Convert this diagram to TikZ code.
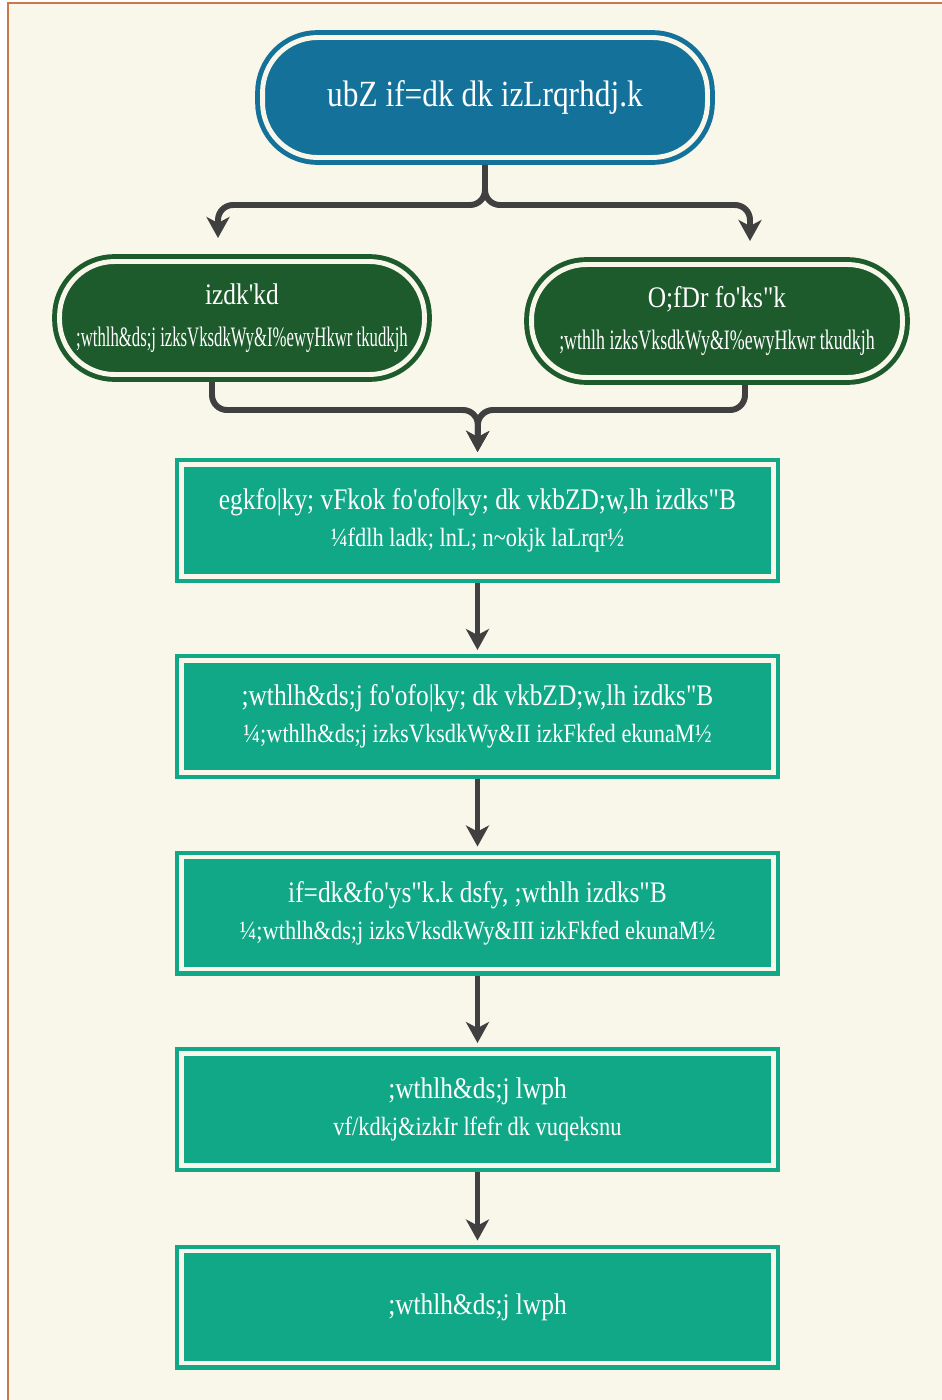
\documentclass[tikz,border=0pt]{standalone}
\usepackage{fontspec}
\setmainfont{Liberation Serif}[FakeStretch=0.85,Ligatures=TeXOff]
\usetikzlibrary{arrows.meta}

\definecolor{paper}{HTML}{F9F6EA}
\definecolor{edgebrown}{HTML}{C8784A}
\definecolor{headblue}{HTML}{14729A}
\definecolor{forest}{HTML}{1D5A2C}
\definecolor{stepteal}{HTML}{11A887}
\definecolor{arrowgray}{HTML}{404040}

\begin{document}
\begin{tikzpicture}[x=0.02cm,y=-0.02cm,
    pill/.style={draw=#1,fill=#1,double=paper,line width=2.8pt,double distance=2.8pt,
      rounded corners=1.1cm,text=white,align=center,inner sep=0pt,outer sep=0.15cm},
    stepbox/.style={draw=stepteal,fill=stepteal,double=paper,line width=2.3pt,double distance=2.8pt,
      minimum width=11.84cm,minimum height=2.24cm,text=white,align=center,inner sep=0pt,
      outer sep=0.13cm,font=\fontsize{17}{21}\selectfont},
    flow/.style={draw=arrowgray,line width=3.4pt,rounded corners=0.3cm,
      -{Stealth[length=0.42cm,width=0.46cm,inset=0.12cm]}}]
    \useasboundingbox (0,0) rectangle (942,1400);
    % Page
    \fill[white] (0,0) rectangle (942,1400);
    \draw[fill=paper,draw=edgebrown,line width=1.2pt] (8,3) rectangle (980,1440);
    % Start
    \node[pill=headblue,minimum width=8.9cm,minimum height=2.4cm,font=\fontsize{21}{25}\selectfont]
      (launch) at (485,97.5) {ubZ if=dk dk izLrqrhdj.k};
    % Two sources
    \node[pill=forest,minimum width=7.3cm,minimum height=2.26cm,font=\fontsize{17}{24}\selectfont]
      (pub) at (242,318) {izdk'kd\\{\fontsize{16}{24}\selectfont\scalebox{0.7}[1]{;wthlh\&ds;j izksVksdkWy\&I\%ewyHkwr tkudkjh}}};
    \node[pill=forest,minimum width=7.42cm,minimum height=2.26cm,font=\fontsize{17}{24}\selectfont]
      (ind) at (717,321) {O;fDr fo'ks"k\\{\fontsize{16}{24}\selectfont\scalebox{0.75}[1]{;wthlh izksVksdkWy\&I\%ewyHkwr tkudkjh}}};
    % Steps
    \node[stepbox] (s1) at (477.5,520.5) {egkfo|ky; vFkok fo'ofo|ky; dk vkbZD;w,lh izdks"B\\
      {\fontsize{15}{20}\selectfont ¼fdlh ladk; lnL; n\textasciitilde okjk laLrqr½}};
    \node[stepbox] (s2) at (477.5,716.5) {;wthlh\&ds;j fo'ofo|ky; dk vkbZD;w,lh izdks"B\\
      {\fontsize{15}{20}\selectfont ¼;wthlh\&ds;j izksVksdkWy\&II izkFkfed ekunaM½}};
    \node[stepbox] (s3) at (477.5,913) {if=dk\&fo'ys"k.k dsfy, ;wthlh izdks"B\\
      {\fontsize{15}{20}\selectfont ¼;wthlh\&ds;j izksVksdkWy\&III izkFkfed ekunaM½}};
    \node[stepbox] (s4) at (477.5,1109.5) {;wthlh\&ds;j lwph\\
      {\fontsize{15}{20}\selectfont vf/kdkj\&izkIr lfefr dk vuqeksnu}};
    \node[stepbox] (s5) at (477.5,1307) {;wthlh\&ds;j lwph};
    % Fork to the two sources
    \coordinate (fork) at (485,205);
    \draw[flow,shorten >=0.32cm] (launch.south) -- (fork) -| ([xshift=-0.48cm]pub.north);
    \draw[flow,shorten >=0.32cm] (launch.south) -- (fork) -| ([xshift=0.66cm]ind.north);
    % Join into the first step
    \coordinate (join) at (478,410);
    \draw[flow,shorten >=0.12cm] ([xshift=-0.6cm]pub.south) |- (join) -- (s1.north);
    \draw[flow,shorten >=0.12cm] ([xshift=0.56cm]ind.south) |- (join) -- (s1.north);
    % Down the steps
    \foreach \a/\b in {s1/s2,s2/s3,s3/s4,s4/s5}
      \draw[flow,shorten >=0.08cm] (\a) -- (\b);
\end{tikzpicture}
\end{document}
